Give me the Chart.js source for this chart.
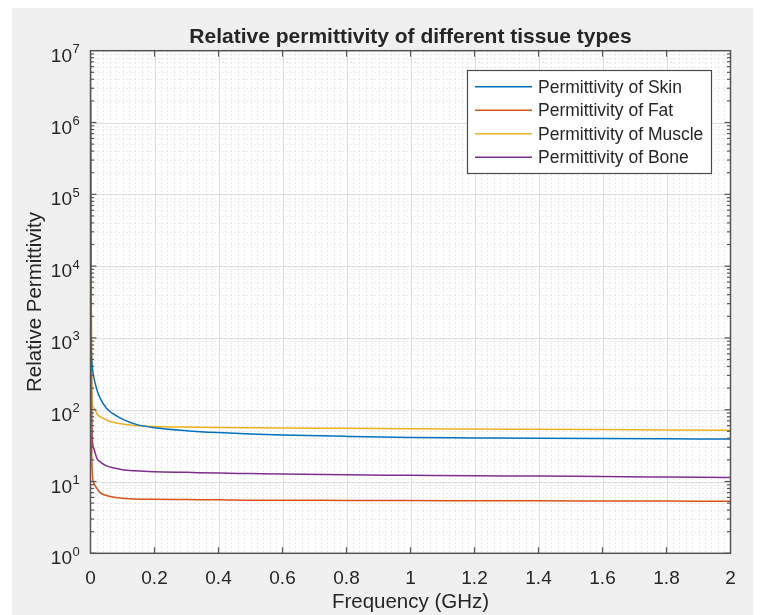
<!DOCTYPE html>
<html>
<head>
<meta charset="utf-8">
<script src="https://cdn.jsdelivr.net/npm/chart.js@4.4.1/dist/chart.umd.min.js"></script>
<style>
  body { margin: 0; background: #ffffff; }
  #wrap { position: absolute; left: 12px; top: 8px; width: 741px; height: 607px; background: #f0f0f0; }
</style>
</head>
<body>
<div id="wrap"><canvas id="permChart" width="741" height="607"></canvas></div>
<script>
// frequency samples (GHz) and relative permittivity
const freqGHz = [0.0005, 0.004, 0.01, 0.02, 0.03, 0.05, 0.07, 0.1, 0.14, 0.2, 0.3, 0.4, 0.5, 0.6, 0.8, 1.0, 1.2, 1.4, 1.6, 1.8, 2.0];
const skin   = [1000, 470, 290, 190, 145, 105, 88, 74, 63, 56, 51, 48, 46, 44.5, 42.5, 41, 40.5, 40, 39.6, 39.3, 39];
const fat    = [2e6, 22, 9.5, 8.0, 7.0, 6.4, 6.1, 5.85, 5.72, 5.65, 5.6, 5.55, 5.5, 5.48, 5.45, 5.42, 5.4, 5.38, 5.36, 5.33, 5.3];
const muscle = [9e6, 140, 106, 88, 80, 72, 67, 63, 60.3, 58.5, 57.2, 56.5, 56, 55.6, 55, 54.3, 53.8, 53.3, 52.8, 52.2, 51.7];
const bone   = [1e4, 55, 29, 21, 18.8, 16.5, 15.5, 14.6, 14.1, 13.7, 13.4, 13.1, 12.9, 12.7, 12.4, 12.2, 12.0, 11.9, 11.7, 11.55, 11.4];

const seriesNames = ['Permittivity of Skin', 'Permittivity of Fat', 'Permittivity of Muscle', 'Permittivity of Bone'];
const seriesColors = ['#0072BD', '#D95319', '#EDB120', '#7E2F8E'];
const decades = [0, 1, 2, 3, 4, 5, 6, 7];

const axisColor = '#262626';
const font = 'Liberation Sans, Arial, Helvetica, sans-serif';

function pts(vals) {
  return freqGHz.map((f, i) => ({ x: f, y: vals[i] }));
}

function line(ctx, x1, y1, x2, y2) {
  ctx.beginPath();
  ctx.moveTo(x1, y1);
  ctx.lineTo(x2, y2);
  ctx.stroke();
}

// MATLAB-like axes: white box, grids, inward ticks, legend, title
const matlabAxes = {
  id: 'matlabAxes',
  beforeDatasetsDraw(chart) {
    const { ctx, chartArea: a } = chart;
    const xs = chart.scales.x, ys = chart.scales.y;
    ctx.save();
    ctx.fillStyle = '#ffffff';
    ctx.fillRect(a.left, a.top, a.right - a.left, a.bottom - a.top);
    ctx.lineWidth = 1;
    // minor grid, dotted
    ctx.strokeStyle = '#d6d6d6';
    ctx.setLineDash([1, 3]);
    for (let i = 1; i < 100; i++) {
      if (i % 10 === 0) continue;
      const px = Math.round(xs.getPixelForValue(i * 0.02)) + 0.5;
      line(ctx, px, a.top, px, a.bottom);
    }
    for (let e = 0; e < 7; e++) {
      for (let m = 2; m < 10; m++) {
        const py = Math.round(ys.getPixelForValue(m * Math.pow(10, e))) + 0.5;
        line(ctx, a.left, py, a.right, py);
      }
    }
    // major grid
    ctx.setLineDash([]);
    ctx.strokeStyle = '#dedede';
    for (let i = 1; i < 10; i++) {
      const px = Math.round(xs.getPixelForValue(i * 0.2)) + 0.5;
      line(ctx, px, a.top, px, a.bottom);
    }
    for (let e = 1; e < 7; e++) {
      const py = Math.round(ys.getPixelForValue(Math.pow(10, e))) + 0.5;
      line(ctx, a.left, py, a.right, py);
    }
    ctx.restore();
  },
  afterDatasetsDraw(chart) {
    const { ctx, chartArea: a } = chart;
    const xs = chart.scales.x, ys = chart.scales.y;
    ctx.save();
    // box
    ctx.strokeStyle = '#555555';
    ctx.lineWidth = 1.5;
    ctx.strokeRect(a.left, a.top, a.right - a.left, a.bottom - a.top);
    // ticks
    ctx.lineWidth = 1.2;
    for (let i = 1; i < 10; i++) {
      const px = xs.getPixelForValue(i * 0.2);
      line(ctx, px, a.bottom, px, a.bottom - 6);
      line(ctx, px, a.top, px, a.top + 6);
    }
    for (let e = 0; e < 7; e++) {
      for (let m = 1; m < 10; m++) {
        const py = ys.getPixelForValue(m * Math.pow(10, e));
        const len = m === 1 ? 6 : 3.5;
        line(ctx, a.left, py, a.left + len, py);
        line(ctx, a.right, py, a.right - len, py);
      }
    }
    // legend
    const bx = 455, by = 62, bw = 244, bh = 103;
    ctx.fillStyle = '#ffffff';
    ctx.fillRect(bx, by, bw, bh);
    ctx.strokeStyle = '#4a4a4a';
    ctx.lineWidth = 1.2;
    ctx.strokeRect(bx + 0.5, by + 0.5, bw, bh);
    ctx.font = '17.5px ' + font;
    ctx.textBaseline = 'middle';
    ctx.textAlign = 'left';
    chart.data.datasets.forEach((ds, i) => {
      const cy = 78.7 + i * 23.5;
      ctx.strokeStyle = ds.borderColor;
      ctx.lineWidth = 1.5;
      line(ctx, 463, cy, 520, cy);
      ctx.fillStyle = axisColor;
      ctx.fillText(ds.label, 526, cy + 1);
    });
    ctx.restore();
  },
  afterDraw(chart) {
    const { ctx, chartArea: a } = chart;
    const ys = chart.scales.y;
    ctx.save();
    ctx.fillStyle = axisColor;
    ctx.textBaseline = 'alphabetic';
    decades.forEach(e => {
      const py = ys.getPixelForValue(Math.pow(10, e));
      ctx.font = '19px ' + font;
      ctx.textAlign = 'right';
      ctx.fillText('10', 60, py + 11);
      ctx.font = '13px ' + font;
      ctx.textAlign = 'left';
      ctx.fillText(String(e), 60.5, py + 2.4);
    });
    ctx.font = 'bold 21px ' + font;
    ctx.textAlign = 'center';
    ctx.fillText('Relative permittivity of different tissue types', (a.left + a.right) / 2, 34.5);
    ctx.restore();
  }
};

const chartContext = document.getElementById('permChart').getContext('2d');
const permChart = new Chart(chartContext, {
  type: 'line',
  data: {
    datasets: [skin, fat, muscle, bone].map((vals, i) => ({
      label: seriesNames[i],
      data: pts(vals),
      borderColor: seriesColors[i],
      borderWidth: 1.5,
      pointRadius: 0,
      fill: false,
      cubicInterpolationMode: 'monotone'
    }))
  },
  options: {
    responsive: false,
    animation: false,
    devicePixelRatio: 1,
    layout: { padding: { top: 42.7, right: 22.5, left: 0, bottom: 0 } },
    plugins: {
      legend: { display: false },
      title: { display: false },
      tooltip: { enabled: false }
    },
    scales: {
      x: {
        type: 'linear',
        min: 0,
        max: 2,
        grid: { display: false },
        border: { display: false },
        ticks: {
          stepSize: 0.2,
          autoSkip: false,
          maxRotation: 0,
          padding: 6,
          color: axisColor,
          font: { family: font, size: 19 },
          callback: v => String(Math.round(v * 10) / 10)
        },
        title: {
          display: true,
          text: 'Frequency (GHz)',
          color: axisColor,
          font: { family: font, size: 20.5 },
          padding: { top: 0, bottom: 0 }
        },
        afterFit(scale) { scale.height = 61.7; }
      },
      y: {
        type: 'logarithmic',
        min: 1,
        max: 1e7,
        grid: { display: false },
        border: { display: false },
        ticks: { display: false },
        title: {
          display: true,
          text: 'Relative Permittivity',
          color: axisColor,
          font: { family: font, size: 20.5 },
          padding: { top: 10.7, bottom: 0 }
        },
        afterFit(scale) { scale.width = 78.5; }
      }
    }
  },
  plugins: [matlabAxes]
});
</script>
</body>
</html>
